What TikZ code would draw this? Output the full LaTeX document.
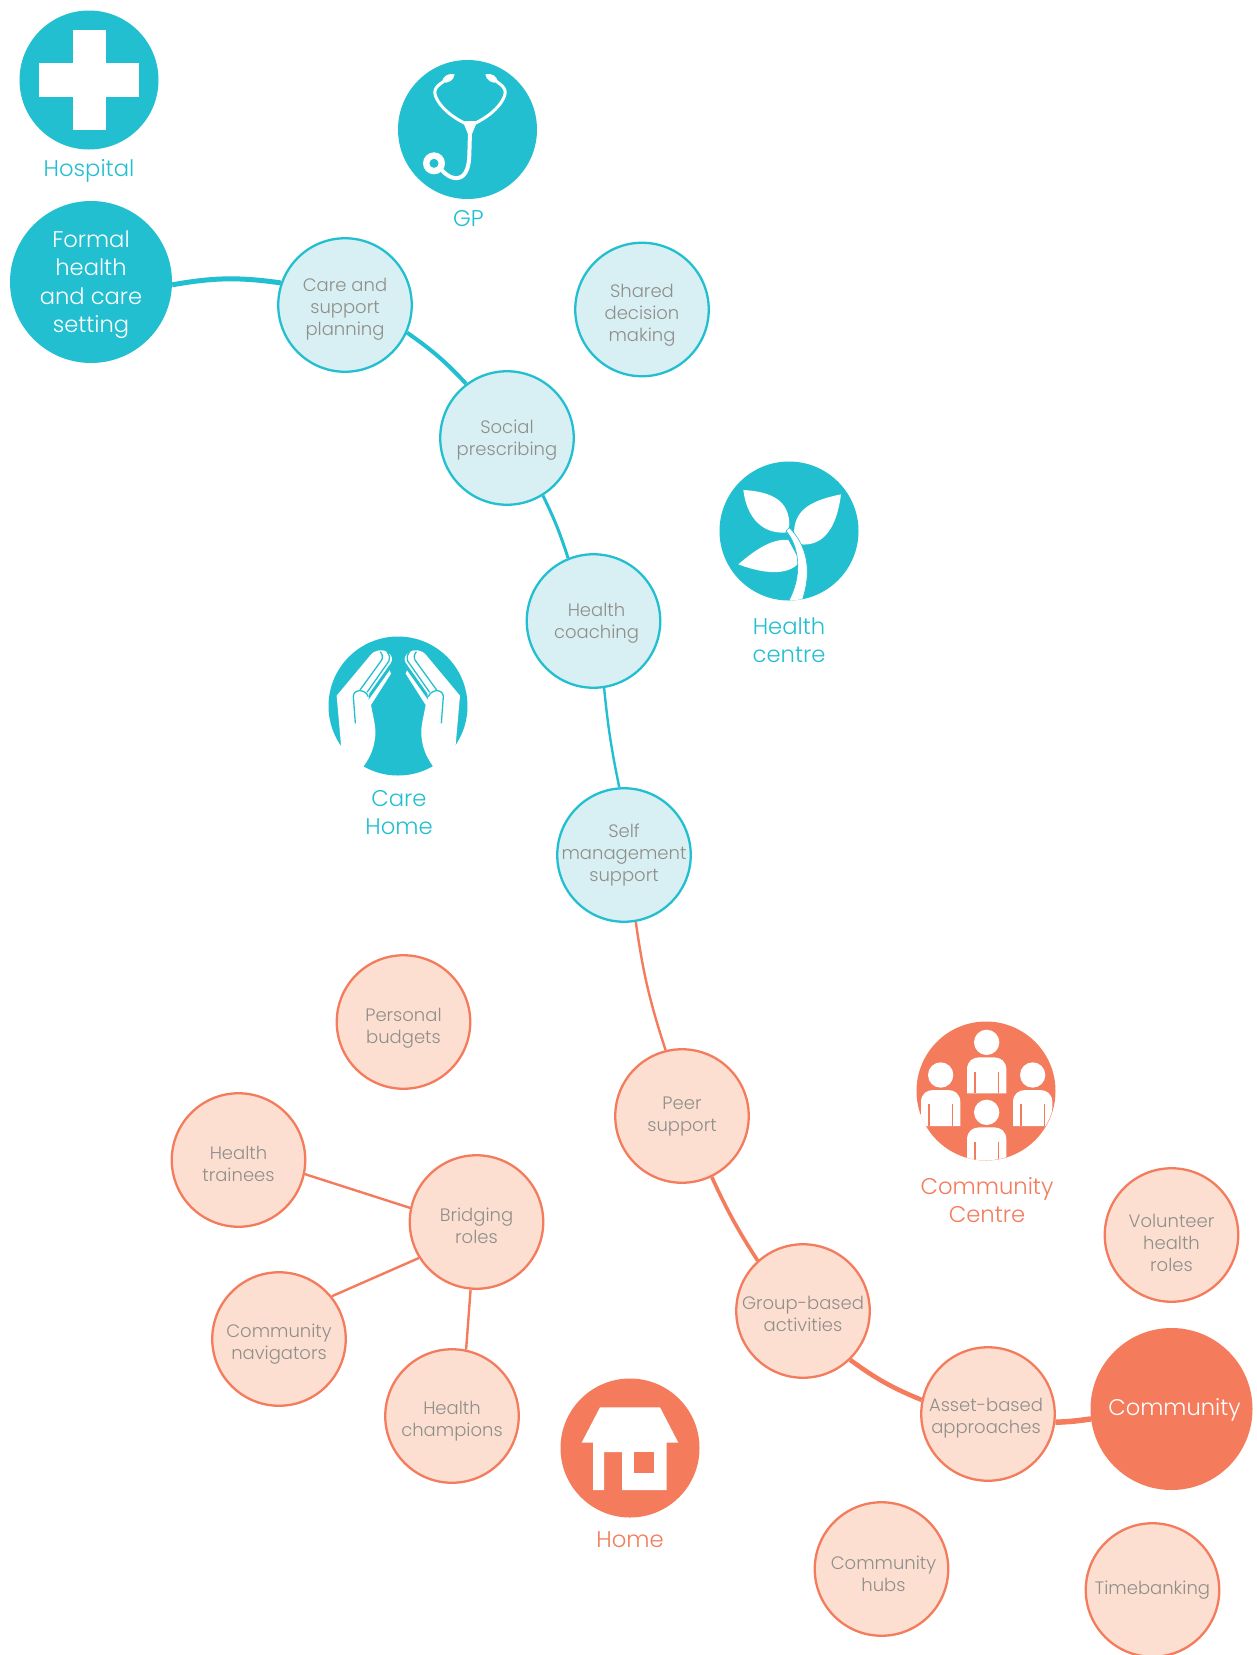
\documentclass[tikz,border=0pt]{standalone}
\usepackage{fontspec}
\setmainfont{Poppins}[UprightFont=* Light]
\definecolor{teal}{HTML}{22BFD0}
\definecolor{teallight}{HTML}{D8EFF3}
\definecolor{coral}{HTML}{F47B5C}
\definecolor{corallight}{HTML}{FDDFD2}
\definecolor{txtgray}{HTML}{8F8F8A}
\newcommand{\handshape}{%
  \fill[white] (140,432) -- (85,440) -- (65,212) -- (165,92) .. controls (180,72) and (205,72) .. (218,82)
      .. controls (232,92) and (234,102) .. (228,113) -- (163,205) -- (160,226) -- (224,136) -- (228,146) -- (168,240)
      .. controls (175,280) and (185,310) .. (180,340)
      .. controls (175,380) and (160,405) .. (140,432) -- cycle;
  \draw[teal,line width=1.3pt] (121,295) -- (115,215) .. controls (115,192) and (150,190) .. (160,215);
  \draw[teal,line width=1.3pt] (135,195) -- (198,108) .. controls (204,100) and (204,90) .. (196,80);
  \draw[teal,line width=1.3pt] (156,202) -- (222,108) .. controls (226,100) and (224,90) .. (216,80);
}
\newcommand{\personshape}[2]{%
  \fill[white] (#1,#2) circle (38);
  \fill[white] (#1-59,#2+153) -- (#1-59,#2+82) .. controls (#1-59,#2+55) and (#1-40,#2+45) .. (#1-22,#2+45)
    -- (#1+22,#2+45) .. controls (#1+40,#2+45) and (#1+59,#2+55) .. (#1+59,#2+82) -- (#1+59,#2+153) -- cycle;
  \draw[coral,line width=1.1pt] (#1-35,#2+88) -- (#1-35,#2+153);
  \draw[coral,line width=1.1pt] (#1+35,#2+88) -- (#1+35,#2+153);
}
\tikzset{
  tealnode/.style={circle,draw=teal,fill=teallight,line width=2.3pt,minimum size=133.5pt,inner sep=0pt},
  coralnode/.style={circle,draw=coral,fill=corallight,line width=2.3pt,minimum size=133.5pt,inner sep=0pt},
  smalltxt/.style={text=txtgray,align=center,inner sep=0pt,font=\fontsize{18}{22}\selectfont},
  bigtxt/.style={text=white,align=center,inner sep=0pt,font=\fontsize{22.6}{28.5}\selectfont},
  bigteal/.style={circle,fill=teal,minimum size=162pt,inner sep=0pt},
  bigcoral/.style={circle,fill=coral,minimum size=162pt,inner sep=0pt},
  iconteal/.style={circle,fill=teal,minimum size=139pt,inner sep=0pt},
  iconcoral/.style={circle,fill=coral,minimum size=139pt,inner sep=0pt},
  lblteal/.style={text=teal,align=center,inner sep=0pt,font=\fontsize{22.7}{28}\selectfont},
  lblcoral/.style={text=coral,align=center,inner sep=0pt,font=\fontsize{22.7}{28}\selectfont},
}
\begin{document}
\begin{tikzpicture}[x=1pt,y=-1pt]
\useasboundingbox (0,0) rectangle (1257,1655);
\fill[white] (0,0) rectangle (1257,1655);

\node[bigteal,label={[bigtxt,yshift=-2.6pt]center:{Formal\\health\\and care\\setting}}] (formal) at (91,282) {};
\node[tealnode,label={[smalltxt,yshift=-4.2pt]center:{Care and\\support\\planning}}] (care) at (345,305) {};
\node[tealnode,label={[smalltxt,yshift=-5.3pt]center:{Shared\\decision\\making}}] (shared) at (642,309.5) {};
\node[tealnode,label={[smalltxt,yshift=-2.1pt]center:{Social\\prescribing}}] (social) at (507,438) {};
\node[tealnode,label={[smalltxt,xshift=3pt,yshift=-2pt]center:{Health\\coaching}}] (coach) at (593.5,621) {};
\node[tealnode,label={[smalltxt]center:{Self\\management\\support}}] (selfm) at (624,855) {};
\node[coralnode,label={[smalltxt,yshift=-5.8pt]center:{Personal\\budgets}}] (personal) at (403.5,1022) {};
\node[coralnode,label={[smalltxt,yshift=-0.5pt]center:{Peer\\support}}] (peer) at (682,1116) {};
\node[coralnode,label={[smalltxt,yshift=-4.3pt]center:{Health\\trainees}}] (trainees) at (238.5,1160) {};
\node[coralnode,label={[smalltxt,yshift=-3.3pt]center:{Bridging\\roles}}] (bridging) at (476.5,1222) {};
\node[coralnode,label={[smalltxt,yshift=-5.3pt]center:{Community\\navigators}}] (navig) at (279,1339) {};
\node[coralnode,label={[smalltxt,yshift=-4.7pt]center:{Health\\champions}}] (champ) at (452,1416) {};
\node[coralnode,label={[smalltxt,yshift=-2.7pt]center:{Group-based\\activities}}] (group) at (803,1311) {};
\node[coralnode,label={[smalltxt,xshift=-2pt,yshift=-4.2pt]center:{Asset-based\\approaches}}] (asset) at (988,1414) {};
\node[coralnode,label={[smalltxt,yshift=-7.5pt]center:{Volunteer\\health\\roles}}] (volunteer) at (1171.5,1235) {};
\node[coralnode,label={[smalltxt,xshift=2pt,yshift=-4.8pt]center:{Community\\hubs}}] (hubs) at (881.5,1569) {};
\node[coralnode,label={[smalltxt]center:{Timebanking}}] (timebank) at (1152.5,1590) {};
\node[bigcoral,label={[bigtxt,xshift=3pt,yshift=-1pt]center:{Community}}] (community) at (1171.5,1409) {};

\draw[teal,line width=5pt] (formal.-2) to[bend left=9] (care.161);
\draw[teal,line width=4pt] (care.-24) to[bend left=6] (social.127);
\draw[teal,line width=3pt] (social.-58) to[bend left=4] (coach.112);
\draw[teal,line width=2.4pt] (coach.-81) to[bend right=3] (selfm.94);
\draw[coral,line width=2.4pt] (selfm.-80) to[bend right=5] (peer.104);
\draw[coral,line width=3.6pt] (peer.-64) to[bend right=4] (group.132);
\draw[coral,line width=4.6pt] (group.-46) to[bend right=7] (asset.168);
\draw[coral,line width=5.5pt] (asset.-7) to[bend right=3] (community.187);
\draw[coral,line width=2.4pt] (trainees.-12) -- (bridging.168);
\draw[coral,line width=2.4pt] (navig.39) -- (bridging.212);
\draw[coral,line width=2.4pt] (champ.78) -- (bridging.265);

% Hospital
\node[iconteal] (hospital) at (89,80) {};
\fill[white] (73,30) rectangle (106,130);
\fill[white] (39,63) rectangle (139,97);
\node[lblteal] (lhospital) at (89,171) {Hospital};

% GP
\node[iconteal] (gp) at (467.5,129.5) {};
\begin{scope}[shift={(380,40)},x=1/3*1pt,y=-1/3*1pt]
  \draw[white,line width=3pt,line cap=round,line join=round] (190,125) .. controls (158,145) and (160,160) .. (175,185) .. controls (195,215) and (225,235) .. (255,250);
  \draw[white,line width=3pt,line cap=round,line join=round] (350,125) .. controls (382,145) and (380,160) .. (365,185) .. controls (345,215) and (315,235) .. (285,250);
  \fill[white] (224,103) .. controls (205,98) and (190,108) .. (185,127) .. controls (205,132) and (222,120) .. cycle;
  \fill[white] (316,103) .. controls (335,98) and (350,108) .. (355,127) .. controls (335,132) and (318,120) .. cycle;
  \fill[white] (248,243) -- (292,243) -- (277,280) -- (263,280) -- cycle;
  \draw[white,line width=4pt,line cap=round] (270,275) -- (268,345) .. controls (266,410) and (240,420) .. (215,412) .. controls (200,407) and (190,395) .. (180,385);
  \fill[white,even odd rule] (162,370) circle (33) (162,370) circle (14);
\end{scope}
\node[lblteal] (lgp) at (468.5,218.5) {GP};

% Health centre
\node[iconteal] (hcentre) at (789,531) {};
\begin{scope}[shift={(700,445)},x=1/3*1pt,y=-1/3*1pt]
  \clip (267,258) circle (208);
  \fill[white] (130,135) .. controls (220,140) and (268,170) .. (268,240) -- (262,262) .. controls (190,270) and (140,220) .. cycle;
  \fill[white] (423,148) .. controls (340,165) and (285,190) .. (282,260) -- (300,298) .. controls (370,305) and (410,250) .. cycle;
  \fill[white] (115,358) .. controls (170,310) and (220,280) .. (265,285) -- (300,350) .. controls (285,370) and (240,405) .. cycle;
  \filldraw[fill=white,draw=teal,line width=0.6pt] (258,258) .. controls (296,300) and (312,390) .. (262,475) -- (303,475) .. controls (340,380) and (320,300) .. (268,248) -- cycle;
\end{scope}
\node[lblteal] (lhcentre) at (789,640.5) {Health\\centre};

% Care home
\node[iconteal] (carehome) at (398,706) {};
\begin{scope}[shift={(315,625)},x=1/3*1pt,y=-1/3*1pt]
  \handshape
\end{scope}
\begin{scope}[shift={(315,625)},xshift=500/3*1pt,x=-1/3*1pt,y=-1/3*1pt]
  \handshape
\end{scope}
\node[lblteal] (lcarehome) at (399,812.5) {Care\\Home};

% Community centre
\node[iconcoral] (ccentre) at (986,1091) {};
\begin{scope}[shift={(905,1010)},x=1/3*1pt,y=-1/3*1pt]
  \clip (242,243) circle (208);
  \personshape{245}{97}
  \personshape{107}{195}
  \personshape{383}{195}
  \personshape{245}{307}
\end{scope}
\node[lblcoral] (lccentre) at (987,1200) {Community\\Centre};

% Home
\node[iconcoral] (home) at (630,1448) {};
\begin{scope}[shift={(550,1370)},x=1/3*1pt,y=-1/3*1pt]
  \fill[white] (150,112) -- (330,112) -- (385,218) -- (350,218) -- (350,360) -- (216,360) -- (216,246) -- (162,246) -- (162,360) -- (129,360) -- (129,218) -- (95,218) -- cycle;
  \fill[coral] (252,246) rectangle (312,310);
\end{scope}
\node[lblcoral] (lhome) at (630,1540) {Home};
\end{tikzpicture}
\end{document}
